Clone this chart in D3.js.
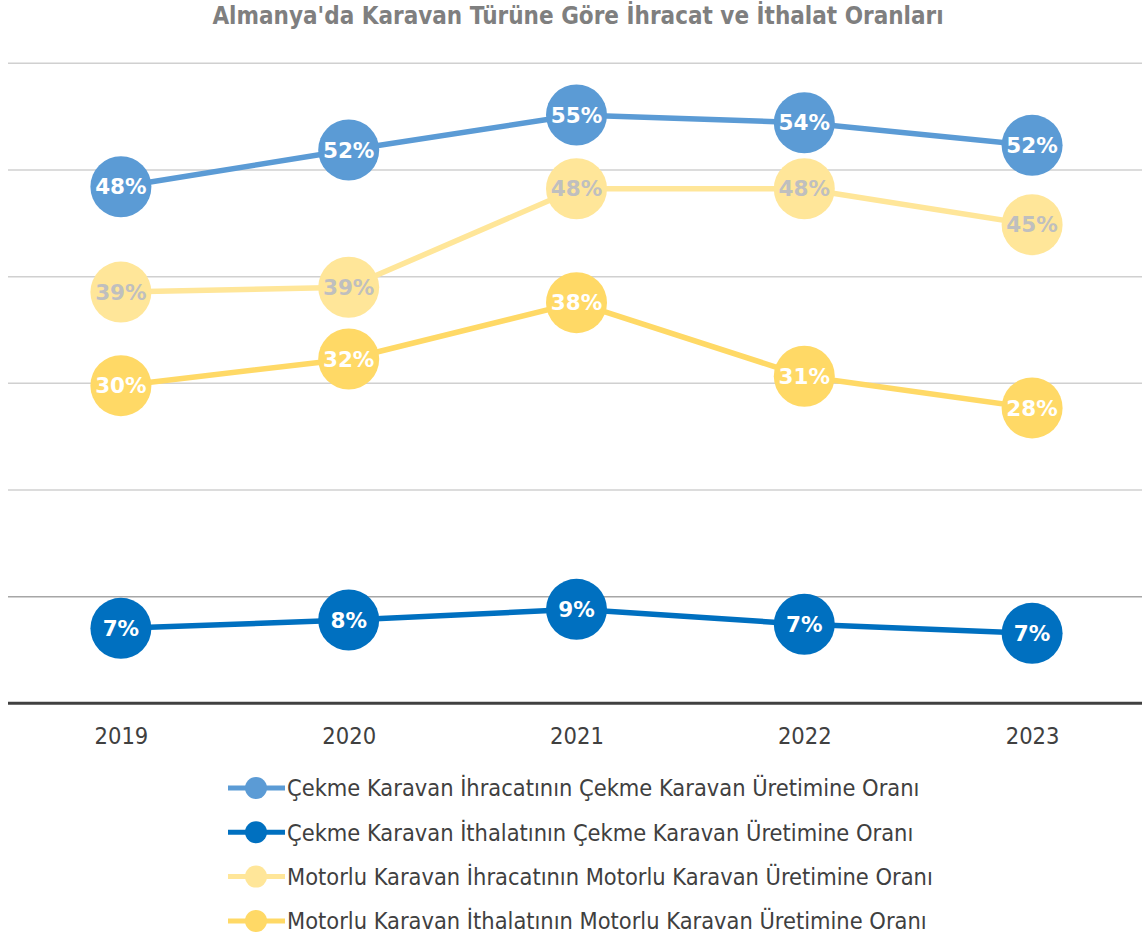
<!DOCTYPE html>
<html>
<head>
<meta charset="utf-8">
<script src="https://cdn.jsdelivr.net/npm/d3@7"></script>
<style>
  body { margin: 0; background: #fff; }
  svg { display: block; }
  .narrow { font-family: "Liberation Sans Narrow", "DejaVu Sans Condensed", "Liberation Sans", sans-serif; }
</style>
</head>
<body>
<div id="chart"></div>
<script>
const title = "Almanya'da Karavan Türüne Göre İhracat ve İthalat Oranları";
const years = ['2019', '2020', '2021', '2022', '2023'];

const seriesNames = [
  'Çekme Karavan İhracatının Çekme Karavan Üretimine Oranı',
  'Çekme Karavan İthalatının Çekme Karavan Üretimine Oranı',
  'Motorlu Karavan İhracatının Motorlu Karavan Üretimine Oranı',
  'Motorlu Karavan İthalatının Motorlu Karavan Üretimine Oranı'
];
const cekmeIhracat = [0.4843, 0.5187, 0.5515, 0.5443, 0.5231];
const cekmeIthalat = [0.0703, 0.0781, 0.0881, 0.0741, 0.0656];
const motorluIhracat = [0.3855, 0.39, 0.4824, 0.4824, 0.4487];
const motorluIthalat = [0.2978, 0.3228, 0.3756, 0.3066, 0.2769];
const yTicks = [0, 0.1, 0.2, 0.3, 0.4, 0.5, 0.6];

const seriesColors = ['#5B9BD5', '#0070C0', '#FFE699', '#FFD966'];
const labelColors = ['#ffffff', '#ffffff', '#BFBFBF', '#ffffff'];

const series = [cekmeIhracat, cekmeIthalat, motorluIhracat, motorluIthalat].map((values, i) => ({
  name: seriesNames[i],
  color: seriesColors[i],
  labelColor: labelColors[i],
  values: values.map((v, j) => ({ year: years[j], value: v }))
}));

const width = 1142;
const height = 939;
const margin = { top: 63, right: -4, bottom: 236, left: 7 };

const svg = d3.select('#chart')
  .append('svg')
  .attr('width', width)
  .attr('height', height);

const x = d3.scalePoint()
  .domain(years)
  .range([margin.left, width - margin.right])
  .padding(0.5);

const y = d3.scaleLinear()
  .domain([0, 0.6])
  .range([height - margin.bottom + 0.3, margin.top + 0.3]);

// gridlines
svg.append('g')
  .selectAll('line')
  .data(yTicks.filter((d) => d > 0))
  .enter()
  .append('line')
  .attr('x1', margin.left + 1)
  .attr('x2', width)
  .attr('y1', (d) => y(d))
  .attr('y2', (d) => y(d))
  .attr('stroke', (d) => (d === 0.1 ? '#A6A6A6' : '#D0D0D0'))
  .attr('stroke-width', 1.5);

// x axis
const xAxis = svg.append('g')
  .attr('transform', `translate(0, ${y(0)})`)
  .call(d3.axisBottom(x).tickSize(0).tickPadding(24));
xAxis.select('.domain')
  .attr('d', `M${margin.left + 1},0H${width}`)
  .attr('stroke', '#404040')
  .attr('stroke-width', 3);
xAxis.selectAll('text')
  .attr('class', 'narrow')
  .attr('font-size', 23.5)
  .attr('fill', '#404040');

const line = d3.line()
  .x((d) => x(d.year))
  .y((d) => y(d.value));

const groups = svg.append('g')
  .selectAll('g')
  .data(series)
  .enter()
  .append('g');

groups.append('path')
  .attr('d', (d) => line(d.values))
  .attr('fill', 'none')
  .attr('stroke', (d) => d.color)
  .attr('stroke-width', 5.5)
  .attr('stroke-linejoin', 'round');

groups.selectAll('circle')
  .data((d) => d.values.map((v) => ({ ...v, color: d.color })))
  .enter()
  .append('circle')
  .attr('cx', (d) => x(d.year))
  .attr('cy', (d) => y(d.value))
  .attr('r', 30.5)
  .attr('fill', (d) => d.color);

groups.selectAll('text')
  .data((d) => d.values.map((v) => ({ ...v, labelColor: d.labelColor })))
  .enter()
  .append('text')
  .attr('x', (d) => x(d.year))
  .attr('y', (d) => y(d.value))
  .attr('dy', '0.36em')
  .attr('text-anchor', 'middle')
  .attr('font-family', '"DejaVu Sans", sans-serif')
  .attr('font-weight', 'bold')
  .attr('font-size', 21.5)
  .attr('fill', (d) => d.labelColor)
  .text((d) => d3.format('.0%')(d.value));

// title
svg.append('text')
  .attr('x', 578)
  .attr('y', 24)
  .attr('text-anchor', 'middle')
  .attr('class', 'narrow')
  .attr('font-weight', 'bold')
  .attr('font-size', 24)
  .attr('fill', '#7F7F7F')
  .text(title);

// legend
const legend = svg.append('g')
  .selectAll('g')
  .data(series)
  .enter()
  .append('g')
  .attr('transform', (d, i) => `translate(228, ${788 + i * 44.3})`);

legend.append('line')
  .attr('x1', 0)
  .attr('x2', 57)
  .attr('stroke', (d) => d.color)
  .attr('stroke-width', 5);

legend.append('circle')
  .attr('cx', 28)
  .attr('r', 11)
  .attr('fill', (d) => d.color);

legend.append('text')
  .attr('x', 59)
  .attr('dy', '0.35em')
  .attr('class', 'narrow')
  .attr('font-size', 23.4)
  .attr('fill', '#404040')
  .text((d) => d.name);
</script>
</body>
</html>
